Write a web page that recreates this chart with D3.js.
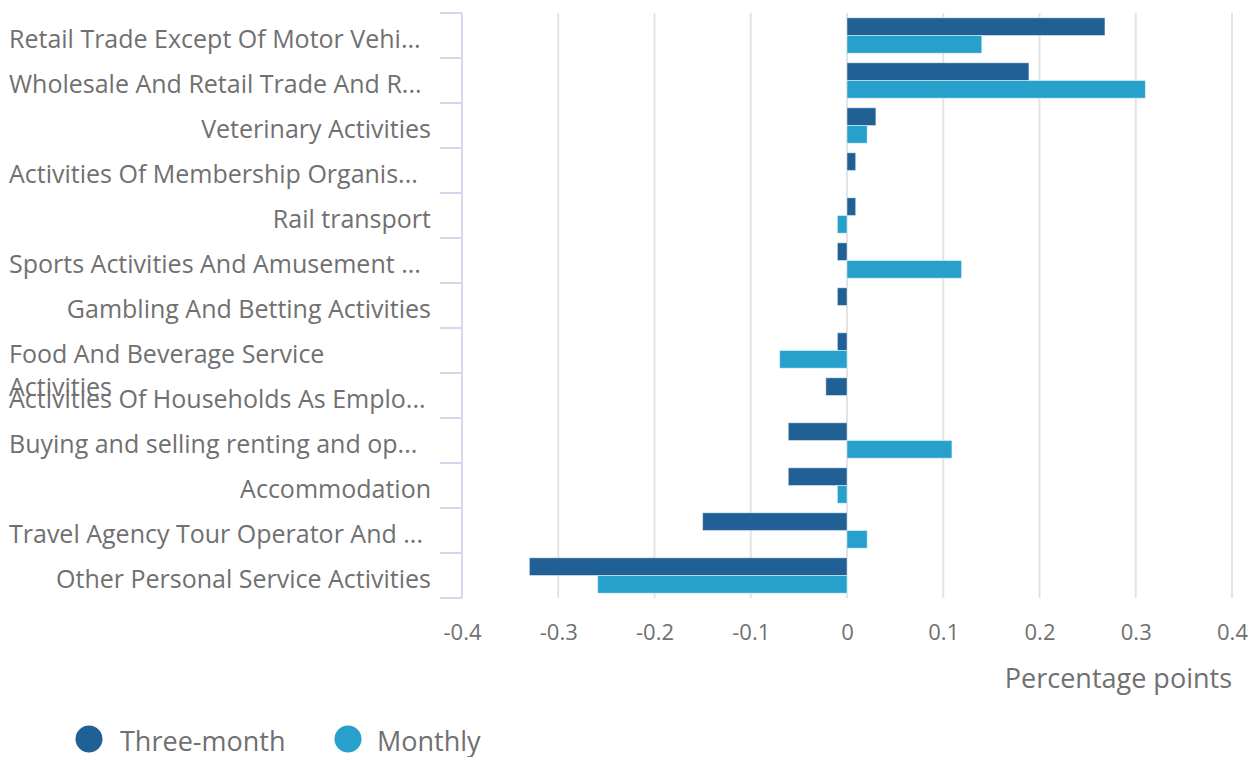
<!DOCTYPE html>
<html>
<head>
<meta charset="utf-8">
<script src="https://cdn.jsdelivr.net/npm/d3@7"></script>
<style>
  body { margin: 0; background: #fff; }
  svg text { font-family: "Open Sans", sans-serif; fill: #707070; }
</style>
</head>
<body>
<div id="chart"></div>
<script>
// categories, top to bottom (labels as shown, truncated ones keep the ellipsis)
var categories = [
  "Retail Trade Except Of Motor Vehi...",
  "Wholesale And Retail Trade And R...",
  "Veterinary Activities",
  "Activities Of Membership Organis...",
  "Rail transport",
  "Sports Activities And Amusement ...",
  "Gambling And Betting Activities",
  "Food And Beverage Service Activities",
  "Activities Of Households As Emplo...",
  "Buying and selling renting and op...",
  "Accommodation",
  "Travel Agency Tour Operator And ...",
  "Other Personal Service Activities"
];
var seriesNames = ["Three-month", "Monthly"];
var threeMonth = [0.268, 0.189, 0.030, 0.009, 0.009, -0.010, -0.010, -0.010, -0.022, -0.061, -0.061, -0.150, -0.330];
var monthly    = [0.140, 0.310, 0.021, 0, -0.010, 0.119, 0, -0.070, 0, 0.109, -0.010, 0.021, -0.259];
var xTicks = [-0.4, -0.3, -0.2, -0.1, 0, 0.1, 0.2, 0.3, 0.4];
var colors = ["#206095", "#27a0cc"];

var svgWidth = 1260;
var svgHeight = 757;
var margin = { top: 13, right: 28, bottom: 159, left: 462 };
var width = svgWidth - margin.left - margin.right;
var height = svgHeight - margin.top - margin.bottom;

var svg = d3.select("#chart")
  .append("svg")
  .attr("width", svgWidth)
  .attr("height", svgHeight);

var chartGroup = svg.append("g")
  .attr("transform", `translate(${margin.left}, ${margin.top})`);

// scales
var xScale = d3.scaleLinear().domain([-0.4, 0.4]).range([0, width]);
var y0 = d3.scaleBand().domain(categories).range([0, height]);
var y1 = d3.scaleBand().domain(seriesNames).range([0, y0.bandwidth()]).paddingOuter(0.27);

// grid lines
chartGroup.append("g")
  .selectAll("line")
  .data(xTicks.slice(1))
  .enter()
  .append("line")
  .attr("x1", d => xScale(d))
  .attr("x2", d => xScale(d))
  .attr("y1", 0)
  .attr("y2", height)
  .attr("stroke", "#e3e3e3")
  .attr("stroke-width", 2);

// bottom tick labels (no axis line), plain hyphen for negatives
var bottomAxis = d3.axisBottom(xScale).tickValues(xTicks).tickSize(0).tickPadding(26)
  .tickFormat(d => String(+d.toFixed(1)));
var xAxisG = chartGroup.append("g")
  .attr("transform", `translate(0, ${height})`)
  .call(bottomAxis);
xAxisG.select(".domain").remove();
xAxisG.selectAll("text")
  .style("font-size", "22px")
  .attr("fill", "#707070");

// bars
var rows = categories.map((c, i) => ({ cat: c, vals: [threeMonth[i], monthly[i]] }));
var rowGroups = chartGroup.selectAll(".row")
  .data(rows)
  .enter()
  .append("g")
  .attr("class", "row")
  .attr("transform", d => `translate(0, ${y0(d.cat)})`);

rowGroups.selectAll("rect")
  .data(d => d.vals.map((v, j) => ({ key: seriesNames[j], v: v, j: j })).filter(e => e.v !== 0))
  .enter()
  .append("rect")
  .attr("x", d => xScale(Math.min(0, d.v)))
  .attr("width", d => Math.abs(xScale(d.v) - xScale(0)))
  .attr("y", d => y1(d.key))
  .attr("height", y1.bandwidth())
  .attr("fill", d => colors[d.j])
  .attr("stroke", "rgba(255,255,255,0.45)")
  .attr("stroke-width", 1);

// left axis line with band-boundary ticks
var axisColor = "#d3d8ef";
chartGroup.append("line")
  .attr("x1", 0).attr("x2", 0)
  .attr("y1", 0).attr("y2", height)
  .attr("stroke", axisColor).attr("stroke-width", 2);
var bounds = categories.map(c => y0(c)).concat([height]);
chartGroup.append("g")
  .selectAll("line")
  .data(bounds)
  .enter()
  .append("line")
  .attr("x1", -22).attr("x2", 0)
  .attr("y1", d => d).attr("y2", d => d)
  .attr("stroke", axisColor).attr("stroke-width", 2);

// category labels
var labelX = -31;
var labelLeft = 9 - margin.left;
var labelSize = "25px";
rowGroups.each(function(d) {
  var g = d3.select(this);
  var cy = y0.bandwidth() / 2 + 12.5;
  if (d.cat === "Food And Beverage Service Activities") {
    var t = g.append("text").attr("x", labelLeft).attr("y", cy).style("font-size", labelSize);
    t.append("tspan").attr("x", labelLeft).text("Food And Beverage Service");
    t.append("tspan").attr("x", labelLeft).attr("dy", 33).text("Activities");
  } else if (d.cat.endsWith("...")) {
    g.append("text").attr("x", labelLeft).attr("y", cy).style("font-size", labelSize).text(d.cat);
  } else {
    g.append("text").attr("x", labelX).attr("y", cy).attr("text-anchor", "end").style("font-size", labelSize).text(d.cat);
  }
});

// x axis title
chartGroup.append("text")
  .attr("x", width)
  .attr("y", height + 90)
  .attr("text-anchor", "end")
  .style("font-size", "27px")
  .text("Percentage points");

// legend
var legendItems = [{ name: seriesNames[0], cx: 89, tx: 120 }, { name: seriesNames[1], cx: 348, tx: 377 }];
var legend = svg.append("g");
legend.selectAll("circle")
  .data(legendItems)
  .enter()
  .append("circle")
  .attr("cx", d => d.cx)
  .attr("cy", 739)
  .attr("r", 13.5)
  .attr("fill", (d, i) => colors[i]);
legend.selectAll("text")
  .data(legendItems)
  .enter()
  .append("text")
  .attr("x", d => d.tx)
  .attr("y", 751)
  .style("font-size", "27px")
  .text(d => d.name);
</script>
</body>
</html>
